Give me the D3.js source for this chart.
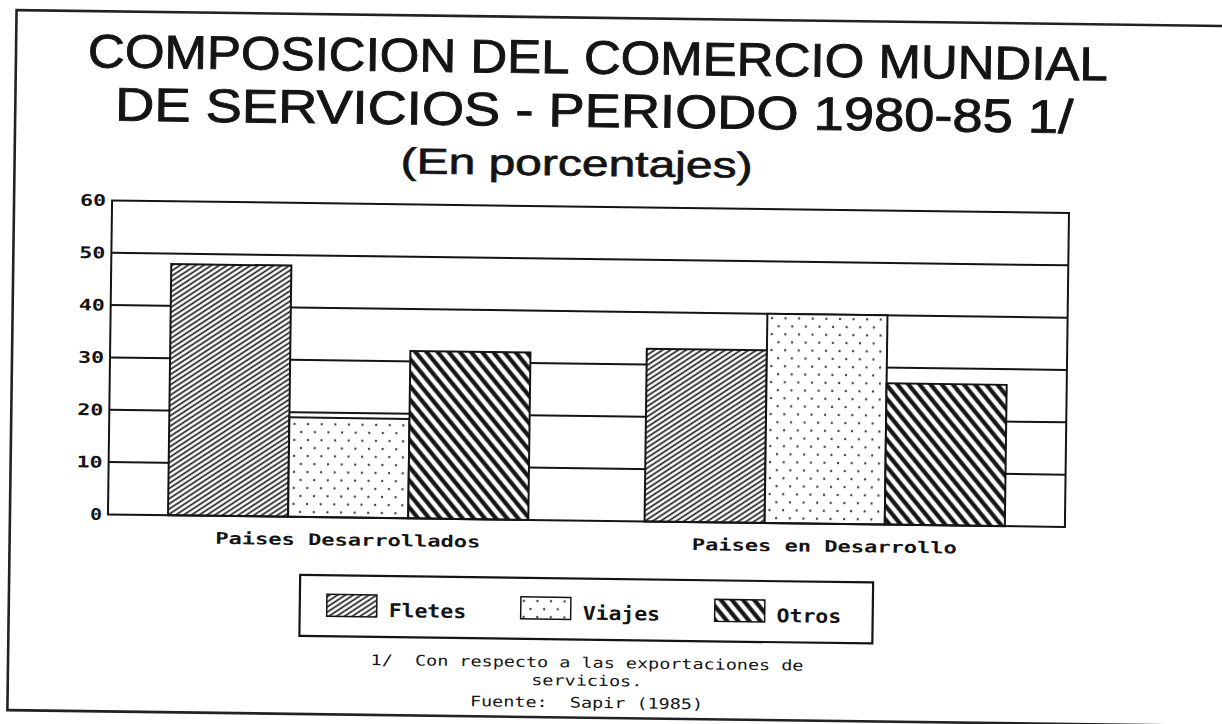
<!DOCTYPE html>
<html>
<head>
<meta charset="utf-8">
<style>
  body { margin: 0; background: #fff; }
  svg { display: block; }
</style>
</head>
<body>
<svg width="1222" height="724"></svg>
<script src="https://d3js.org/d3.v7.min.js"></script>
<script>
    // data
    const categories = ["Paises Desarrollados", "Paises en Desarrollo"];
    const series = ["Fletes", "Viajes", "Otros"];
    const fletes = [48, 33];
    const viajes = [19, 40];
    const otros = [32, 27];
    const yTicks = [0, 10, 20, 30, 40, 50, 60];

    const titleLines = ["COMPOSICION DEL COMERCIO MUNDIAL", "DE SERVICIOS - PERIODO 1980-85 1/"];
    const subtitle = "(En porcentajes)";
    const footnotes = ["1/  Con respecto a las exportaciones de", "servicios.", "Fuente:  Sapir (1985)"];

    const values = { Fletes: fletes, Viajes: viajes, Otros: otros };
    const INK = "#141414";
    const MONO = "'DejaVu Sans Mono', 'Liberation Mono', monospace";
    const SANS = "'Liberation Sans', Arial, sans-serif";

    const svg = d3.select("svg");
    svg.append("rect").attr("width", 1222).attr("height", 724).attr("fill", "#fff");

    function defineFills(svg) {
        const defs = svg.append("defs");
        // fine hatching for Fletes
        const p1 = defs.append("pattern").attr("id", "pFletes")
            .attr("patternUnits", "userSpaceOnUse")
            .attr("width", 8).attr("height", 4.3)
            .attr("patternTransform", "rotate(-34)");
        p1.append("rect").attr("width", 8).attr("height", 4.3).attr("fill", "#fff");
        p1.append("line").attr("x1", 0).attr("x2", 8).attr("y1", 2.15).attr("y2", 2.15)
            .attr("stroke", INK).attr("stroke-width", 1.6);
        // dots for Viajes
        const p2 = defs.append("pattern").attr("id", "pViajes")
            .attr("patternUnits", "userSpaceOnUse")
            .attr("width", 13.6).attr("height", 16);
        p2.append("rect").attr("width", 13.6).attr("height", 16).attr("fill", "#fff");
        p2.append("circle").attr("cx", 3).attr("cy", 4).attr("r", 1.2).attr("fill", "#444");
        p2.append("circle").attr("cx", 9.8).attr("cy", 12).attr("r", 1.2).attr("fill", "#444");
        // heavy hatching for Otros
        const p3 = defs.append("pattern").attr("id", "pOtros")
            .attr("patternUnits", "userSpaceOnUse")
            .attr("width", 8.6).attr("height", 8.6)
            .attr("patternTransform", "rotate(50)");
        p3.append("rect").attr("width", 8.6).attr("height", 8.6).attr("fill", "#fff");
        p3.append("line").attr("x1", 0).attr("x2", 8.6).attr("y1", 4.3).attr("y2", 4.3)
            .attr("stroke", INK).attr("stroke-width", 4.2);
    }
    defineFills(svg);
    const fillOf = { Fletes: "url(#pFletes)", Viajes: "url(#pViajes)", Otros: "url(#pOtros)" };

    // the scan is turned a little clockwise, so is the whole drawing
    const g = svg.append("g").attr("transform", "rotate(0.75, 611, 362)");

    // outer page frame
    g.append("rect").attr("x", 12).attr("y", 18).attr("width", 1300).attr("height", 700)
        .attr("fill", "none").attr("stroke", "#222").attr("stroke-width", 2.6);

    // one <text> per word, squeezed so the whole line gets the wanted width
    function wordLine(text, cx, baseline, width, size, sw) {
        const words = text.split(" ");
        const tmp = g.append("text").attr("font-family", SANS).attr("font-size", size)
            .style("white-space", "pre");
        const measure = s => { tmp.text(s); return tmp.node().getComputedTextLength(); };
        const space = measure("a b") - measure("ab");
        const widths = words.map(measure);
        tmp.remove();
        const k = width / (d3.sum(widths) + space * (words.length - 1));
        let x = cx - width / 2;
        words.forEach((w, i) => {
            g.append("text")
                .attr("x", x).attr("y", baseline)
                .attr("font-family", SANS).attr("font-size", size)
                .attr("fill", INK).attr("stroke", INK).attr("stroke-width", sw)
                .attr("textLength", widths[i] * k).attr("lengthAdjust", "spacingAndGlyphs")
                .text(w);
            x += (widths[i] + space) * k;
        });
    }
    wordLine(titleLines[0], 594, 74, 1020, 47, 0.9);
    wordLine(titleLines[1], 591, 127, 958, 47, 0.9);
    wordLine(subtitle, 574, 176, 352, 36, 0.7);

    // plot area
    const pLeft = 110, pRight = 1067, pTop = 207, pBottom = 521;
    const x0 = d3.scaleBand().domain(categories).range([pLeft, pRight])
        .paddingInner(0.244).paddingOuter(0.126);
    const x1 = d3.scaleBand().domain(series).range([0, x0.bandwidth()]);
    const y = d3.scaleLinear().domain([0, 60]).range([pBottom, pTop]);

    // grid lines (bars cover them)
    g.append("g").selectAll("line")
        .data(yTicks.filter(d => d > 0 && d < 60))
        .join("line")
        .attr("x1", pLeft).attr("x2", pRight)
        .attr("y1", d => y(d)).attr("y2", d => y(d))
        .attr("stroke", INK).attr("stroke-width", 2);

    // bars
    const rows = [];
    categories.forEach((c, ci) => {
        series.forEach(s => rows.push({ cat: c, ser: s, val: values[s][ci] }));
    });
    g.append("g").selectAll("rect")
        .data(rows)
        .join("rect")
        .attr("x", d => x0(d.cat) + x1(d.ser))
        .attr("y", d => y(d.val))
        .attr("width", x1.bandwidth())
        .attr("height", d => y(0) - y(d.val))
        .attr("fill", d => fillOf[d.ser])
        .attr("stroke", INK).attr("stroke-width", 2);

    // plot frame
    g.append("rect")
        .attr("x", pLeft).attr("y", pTop)
        .attr("width", pRight - pLeft).attr("height", pBottom - pTop)
        .attr("fill", "none").attr("stroke", INK).attr("stroke-width", 2);

    // y axis labels, no tick marks; dot-matrix digits are wide
    const yAxis = d3.axisLeft(y).tickValues(yTicks).tickSize(0).tickPadding(0).tickFormat(d3.format("d"));
    const ya = g.append("g").attr("transform", `translate(${pLeft - 6},0)`).call(yAxis);
    ya.select(".domain").remove();
    ya.selectAll("text")
        .attr("font-family", MONO).attr("font-size", 16).attr("font-weight", "bold")
        .attr("textLength", d => String(d).length * 14 - 2).attr("lengthAdjust", "spacingAndGlyphs")
        .attr("fill", INK);

    // category labels
    const xAxis = d3.axisBottom(x0).tickSize(0).tickPadding(0);
    const xa = g.append("g").attr("transform", `translate(0,${pBottom})`).call(xAxis);
    xa.select(".domain").remove();
    xa.selectAll("text")
        .attr("y", 28).attr("dy", 0)
        .attr("font-family", MONO).attr("font-size", 16).attr("font-weight", "bold")
        .attr("textLength", d => d.length * 13.25).attr("lengthAdjust", "spacingAndGlyphs")
        .attr("fill", INK);

    // legend
    const legend = g.append("g");
    legend.append("rect").attr("x", 303).attr("y", 579).attr("width", 573).attr("height", 61)
        .attr("fill", "#fff").attr("stroke", INK).attr("stroke-width", 2.2);
    const lx = d3.scalePoint().domain(series).range([330, 718]);
    const item = legend.selectAll("g.item").data(series).join("g").attr("class", "item")
        .attr("transform", d => `translate(${lx(d)},598)`);
    item.append("rect").attr("width", 50).attr("height", 22)
        .attr("fill", d => fillOf[d]).attr("stroke", INK).attr("stroke-width", 1.5);
    item.append("text").attr("x", 62).attr("y", 22)
        .attr("font-family", MONO).attr("font-size", 19).attr("font-weight", "bold")
        .attr("textLength", d => d.length * 12.9).attr("lengthAdjust", "spacingAndGlyphs")
        .attr("fill", INK)
        .text(d => d);

    // footnotes
    const footBase = [668, 686, 708];
    footnotes.forEach((t, i) => {
        g.append("text")
            .attr("x", 591).attr("y", footBase[i])
            .attr("text-anchor", "middle")
            .attr("font-family", MONO).attr("font-size", 14.5)
            .style("white-space", "pre")
            .attr("textLength", t.length * 11.1).attr("lengthAdjust", "spacingAndGlyphs")
            .attr("fill", INK)
            .text(t);
    });
</script>
</body>
</html>
